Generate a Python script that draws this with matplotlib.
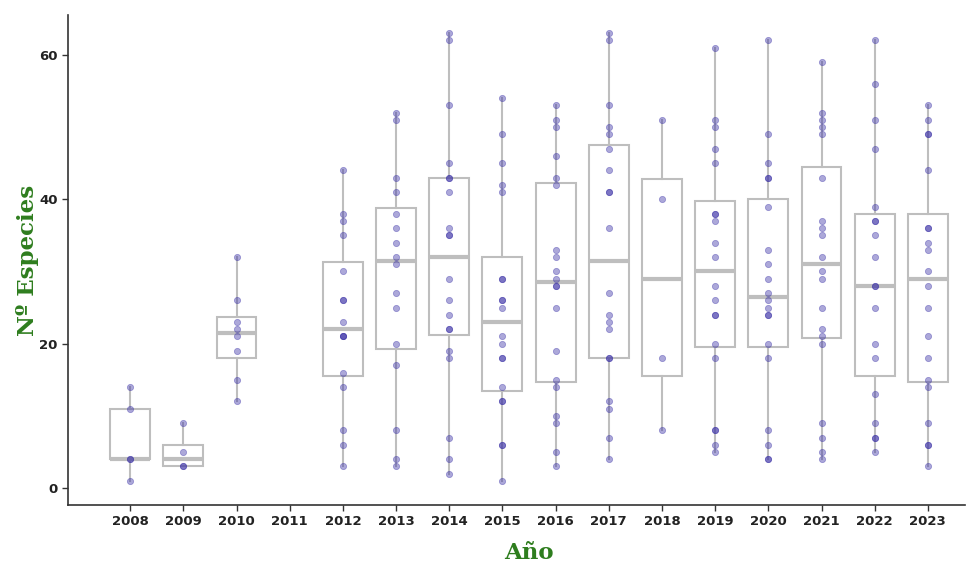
import numpy as np
import matplotlib
matplotlib.use("Agg")
import matplotlib.pyplot as plt

# Species counts per sampling event, grouped by year
years = ["2008", "2009", "2010", "2011", "2012", "2013", "2014", "2015",
         "2016", "2017", "2018", "2019", "2020", "2021", "2022", "2023"]

y2008 = [1, 4, 4, 11, 14]
y2009 = [3, 3, 5, 9]
y2010 = [12, 15, 19, 21, 22, 23, 26, 32]
y2011 = []
y2012 = [3, 6, 8, 14, 16, 21, 21, 21, 23, 26, 26, 30, 35, 37, 38, 44]
y2013 = [3, 4, 8, 17, 20, 25, 27, 31, 32, 34, 36, 38, 41, 43, 51, 52]
y2014 = [2, 4, 7, 18, 19, 22, 22, 24, 26, 29, 35, 35, 36, 41, 43, 43, 45, 53, 62, 63]
y2015 = [1, 6, 6, 12, 12, 14, 18, 18, 20, 21, 25, 26, 26, 29, 29, 41, 42, 45, 49, 54]
y2016 = [3, 5, 9, 10, 14, 15, 19, 25, 28, 28, 29, 30, 32, 33, 42, 43, 46, 50, 51, 53]
y2017 = [4, 7, 11, 12, 18, 18, 22, 23, 24, 27, 36, 41, 41, 44, 47, 49, 50, 53, 62, 63]
y2018 = [8, 18, 40, 51]
y2019 = [5, 6, 8, 8, 18, 20, 24, 24, 26, 28, 32, 34, 37, 38, 38, 45, 47, 50, 51, 61]
y2020 = [4, 4, 6, 8, 18, 20, 24, 24, 25, 26, 27, 29, 31, 33, 39, 43, 43, 45, 49, 62]
y2021 = [4, 5, 7, 9, 20, 21, 22, 25, 29, 30, 32, 35, 36, 37, 43, 49, 50, 51, 52, 59]
y2022 = [5, 7, 7, 9, 13, 18, 20, 25, 28, 28, 32, 35, 37, 37, 39, 47, 51, 56, 62]
y2023 = [3, 6, 6, 9, 14, 15, 18, 21, 25, 28, 30, 33, 34, 36, 36, 44, 49, 49, 51, 53]

series = [y2008, y2009, y2010, y2011, y2012, y2013, y2014, y2015,
          y2016, y2017, y2018, y2019, y2020, y2021, y2022, y2023]

y_ticks = [0, 20, 40, 60]

box_grey = "#BEBEBE"
point_col = "#3A30A6"
label_green = "#2E7D1E"
tick_col = "#222222"

fig = plt.figure(figsize=(9.68, 5.63), dpi=100)
ax = fig.add_axes([0.0702, 0.103, 0.9268, 0.870])

positions = np.arange(len(years))
for pos, vals in zip(positions, series):
    if len(vals) == 0:
        continue
    ax.boxplot([vals], positions=[pos], widths=0.75, whis=1.5,
               showfliers=False, patch_artist=True,
               boxprops=dict(facecolor="white", edgecolor=box_grey, linewidth=1.5),
               whiskerprops=dict(color=box_grey, linewidth=1.5),
               capprops=dict(linewidth=0),
               medianprops=dict(color=box_grey, linewidth=3.0),
               zorder=2)
    ax.scatter(np.full(len(vals), pos), vals, s=20, color=point_col,
               alpha=0.42, edgecolors=point_col, linewidths=0.6, zorder=3)

ax.set_xlim(-1.17, 15.7)
ax.set_ylim(-2.35, 65.5)
ax.set_xticks(positions)
ax.set_xticklabels(years)
ax.set_yticks(y_ticks)

for side in ("top", "right"):
    ax.spines[side].set_visible(False)
for side in ("left", "bottom"):
    ax.spines[side].set_color("#333333")
    ax.spines[side].set_linewidth(1.2)

ax.tick_params(axis="both", colors="#333333", length=4, width=1.0,
               labelcolor=tick_col)
for lab in ax.get_xticklabels() + ax.get_yticklabels():
    lab.set_fontfamily("DejaVu Sans")
    lab.set_fontweight("bold")
    lab.set_fontsize(9.5)

ax.set_ylabel("Nº Especies", fontfamily="DejaVu Serif", fontweight="bold",
              fontsize=16.5, color=label_green)
ax.yaxis.set_label_coords(-0.032, 0.5)
ax.set_xlabel("Año", fontfamily="DejaVu Serif", fontweight="bold",
              fontsize=16.5, color=label_green, va="center")
xmin, xmax = ax.get_xlim()
ax.xaxis.set_label_coords((7.5 - xmin) / (xmax - xmin), -0.097)

fig.savefig("out.png", dpi=100, facecolor="white")
